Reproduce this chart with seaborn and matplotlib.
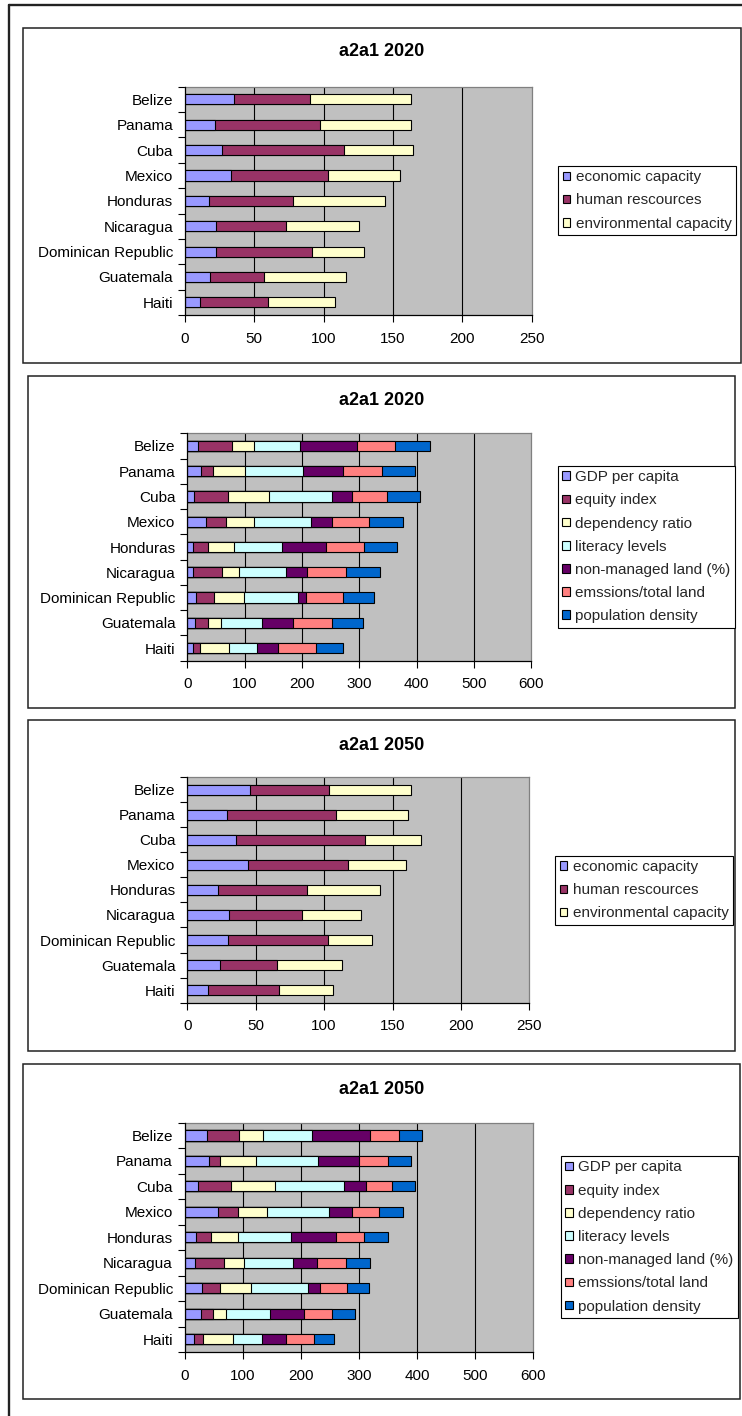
import numpy as np
import pandas as pd
import matplotlib
matplotlib.use("Agg")
import matplotlib.pyplot as plt
import seaborn as sns
from matplotlib.patches import Rectangle, Patch
from matplotlib.lines import Line2D

# ---------------- data ----------------
countries = ["Belize", "Panama", "Cuba", "Mexico", "Honduras", "Nicaragua",
             "Dominican Republic", "Guatemala", "Haiti"]

agg_names = ["economic capacity", "human rescources", "environmental capacity"]
ind_names = ["GDP per capita", "equity index", "dependency ratio", "literacy levels",
             "non-managed land (%)", "emssions/total land", "population density"]

# a2a1 2020 - aggregate
econ_2020 = [35, 22, 27, 33, 17, 22.6, 22.6, 17.8, 11]
human_2020 = [55, 75.5, 88, 70, 61, 50.3, 68.8, 39, 49]
env_2020 = [73, 65.2, 49.5, 52, 66, 52.9, 37.5, 59.4, 48.5]

# a2a1 2020 - indicators
gdp_2020 = [19.2, 24.5, 12.2, 32.6, 9.9, 9.9, 15.7, 14.0, 9.9]
equity_2020 = [59.4, 20.3, 58.8, 34.9, 26.8, 50.7, 30.9, 22.1, 12.8]
dep_2020 = [37.8, 56.5, 71.1, 48.4, 44.2, 30.2, 53.0, 22.7, 50.7]
lit_2020 = [79.8, 101.3, 111.2, 99.5, 85.0, 81.5, 93.1, 71.0, 48.9]
nonman_2020 = [100.2, 69.9, 34.9, 37.9, 76.3, 36.7, 14.6, 55.4, 36.7]
ems_2020 = [66.3, 66.4, 60.6, 63.4, 65.8, 68.7, 64.6, 66.9, 66.3]
pop_2020 = [61.2, 58.8, 57.0, 58.8, 57.1, 58.8, 53.0, 55.3, 46.0]

# a2a1 2050 - aggregate
econ_2050 = [45.9, 28.8, 35.6, 44.4, 22.2, 30.7, 30.0, 23.7, 15.2]
human_2050 = [57.8, 80.0, 94.2, 72.9, 65.6, 53.4, 72.7, 41.7, 51.5]
env_2050 = [59.7, 52.7, 40.9, 42.5, 53.4, 43.2, 32.4, 47.8, 40.0]

# a2a1 2050 - indicators
gdp_2050 = [37.9, 42.5, 22.4, 56.9, 20.1, 18.4, 30.5, 27.6, 16.1]
equity_2050 = [55.2, 18.4, 57.5, 34.5, 24.7, 48.8, 31.0, 21.3, 14.9]
dep_2050 = [41.4, 62.1, 75.3, 50.6, 47.2, 34.5, 52.9, 22.9, 52.9]
lit_2050 = [85.6, 106.9, 119.5, 106.3, 90.8, 85.7, 98.8, 74.8, 50.0]
nonman_2050 = [99.4, 70.7, 36.8, 40.2, 77.5, 40.2, 20.1, 59.1, 40.8]
ems_2050 = [48.9, 48.8, 44.8, 46.6, 48.3, 50.6, 46.6, 48.3, 48.9]
pop_2050 = [39.6, 40.3, 40.3, 40.8, 40.8, 40.8, 37.3, 39.1, 34.4]

agg_colors = ["#9999FF", "#993366", "#FFFFCC"]
ind_colors = ["#9999FF", "#993366", "#FFFFCC", "#CCFFFF", "#660066", "#FF8080", "#0066CC"]

# ---------------- figure ----------------
sns.set_theme(style="white")
plt.rcParams['font.family'] = ['Liberation Sans', 'DejaVu Sans']

W, H = 742, 1416
fig = plt.figure(figsize=(W / 100, H / 100), dpi=100)
fig.patch.set_facecolor("white")


def fx(x):
    return x / W


def fy(y):
    return 1 - y / H


def panel_box(x0, y0, x1, y1):
    fig.add_artist(Rectangle((fx(x0), fy(y1)), (x1 - x0) / W, (y1 - y0) / H,
                             transform=fig.transFigure, fill=False,
                             edgecolor="#222222", linewidth=1.1))


def stacked_panel(axbox, series, names, colors, xmax, step, title, title_xy, leg_xy):
    x0, x1, y0, y1 = axbox
    ax = fig.add_axes([fx(x0), fy(y1), (x1 - x0) / W, (y1 - y0) / H])
    ax.set_facecolor("#C0C0C0")
    cum = np.cumsum(np.array(series, dtype=float), axis=0)
    for i in range(len(series) - 1, -1, -1):
        df = pd.DataFrame({"country": countries, "value": cum[i]})
        sns.barplot(data=df, x="value", y="country", order=countries, orient="h",
                    color=colors[i], saturation=1, width=0.4, errorbar=None,
                    edgecolor="black", linewidth=0.8, ax=ax, zorder=3)
    ax.set_xlim(0, xmax)
    ax.set_ylim(len(countries) - 0.5, -0.5)
    ticks = np.arange(0, xmax + 1, step)
    ax.set_xticks(ticks)
    ax.set_xticklabels([str(int(t)) for t in ticks])
    for t in ticks[1:-1]:
        ax.axvline(t, color="black", linewidth=0.8, zorder=1)
    ax.set_yticks(range(len(countries)))
    ax.set_yticklabels(countries)
    ax.set_yticks(np.arange(-0.5, len(countries), 1), minor=True)
    ax.tick_params(axis="y", which="major", length=0, pad=8.5, labelsize=11,
                   labelcolor="black", left=False)
    ax.tick_params(axis="y", which="minor", length=5, width=0.8, color="black",
                   direction="out", left=True)
    ax.tick_params(axis="x", which="major", length=5, width=0.8, color="black",
                   direction="out", pad=7, labelsize=11, labelcolor="black", bottom=True)
    ax.set_xlabel("")
    ax.set_ylabel("")
    for s in ["left", "bottom"]:
        ax.spines[s].set_color("black")
        ax.spines[s].set_linewidth(0.9)
        ax.spines[s].set_zorder(5)
    for s in ["top", "right"]:
        ax.spines[s].set_color("#808080")
        ax.spines[s].set_linewidth(0.9)
    fig.text(fx(title_xy[0]), fy(title_xy[1]), title, ha="center", va="center",
             fontsize=13, fontweight="bold", color="black")
    handles = [Patch(facecolor=c, edgecolor="black", linewidth=0.8, label=n)
               for c, n in zip(colors, names)]
    leg = fig.legend(handles=handles, loc="center left",
                     bbox_to_anchor=(fx(leg_xy[0]), fy(leg_xy[1])),
                     bbox_transform=fig.transFigure, frameon=True, fancybox=False,
                     edgecolor="black", framealpha=1, fontsize=11,
                     handlelength=0.5, handleheight=0.5, handletextpad=0.35,
                     labelspacing=0.6, borderpad=0.3, borderaxespad=0)
    leg.get_frame().set_linewidth(0.8)
    return ax


# outer page frame (left and top)
fig.add_artist(Line2D([fx(9.3), fx(9.3)], [0, fy(5)], transform=fig.transFigure,
                      color="#222222", linewidth=1.7))
fig.add_artist(Line2D([fx(9.3), 1], [fy(5), fy(5)], transform=fig.transFigure,
                      color="#222222", linewidth=1.7))

# panel boxes
panel_box(23.3, 28, 740.5, 363.3)
panel_box(28.3, 376, 735, 707.7)
panel_box(28.3, 720, 735, 1050.7)
panel_box(23.3, 1064, 740, 1399)

stacked_panel((185, 531.5, 86.7, 315), [econ_2020, human_2020, env_2020],
              agg_names, agg_colors, 250, 50, "a2a1 2020", (382, 52), (558, 200.5))
stacked_panel((187.3, 531.2, 433.3, 660.7),
              [gdp_2020, equity_2020, dep_2020, lit_2020, nonman_2020, ems_2020, pop_2020],
              ind_names, ind_colors, 600, 100, "a2a1 2020", (381.7, 400.5), (557.7, 546.7))
stacked_panel((187.3, 529.3, 777, 1002.7), [econ_2050, human_2050, env_2050],
              agg_names, agg_colors, 250, 50, "a2a1 2050", (381.7, 745), (555, 890.3))
stacked_panel((184.7, 533, 1122.7, 1352),
              [gdp_2050, equity_2050, dep_2050, lit_2050, nonman_2050, ems_2050, pop_2050],
              ind_names, ind_colors, 600, 100, "a2a1 2050", (382, 1089), (560.5, 1237))

fig.savefig("out.png", dpi=100, facecolor="white")
